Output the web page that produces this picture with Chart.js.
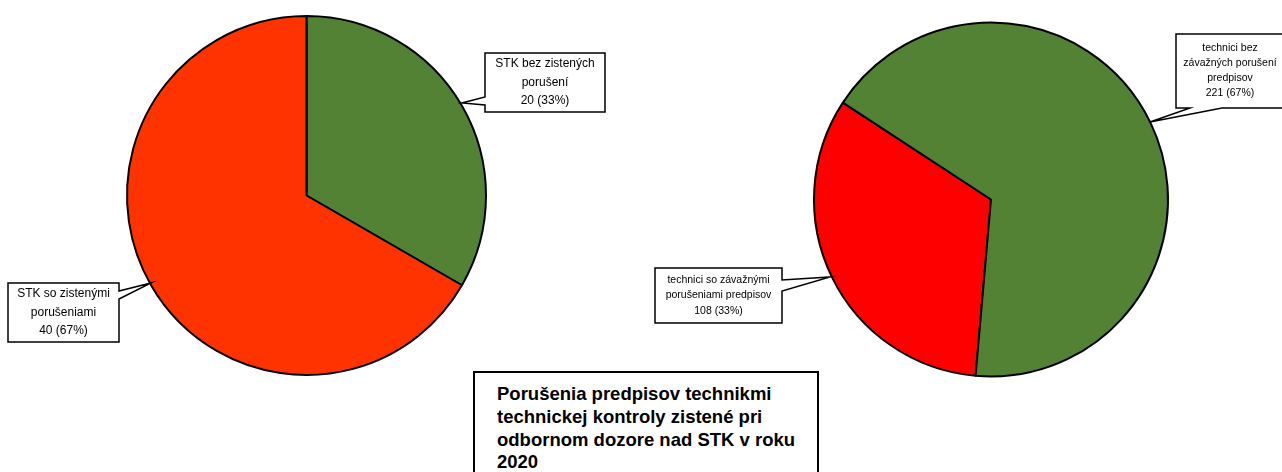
<!DOCTYPE html>
<html>
<head>
<meta charset="utf-8">
<script src="https://cdn.jsdelivr.net/npm/chart.js@4/dist/chart.umd.min.js"></script>
<style>
  html, body { margin: 0; padding: 0; background: #fff; }
  body { width: 1282px; height: 472px; position: relative; overflow: hidden; }
  .layer { position: absolute; left: 0; top: 0; width: 1282px; height: 472px; }
  #title {
    position: absolute; left: 473px; top: 371px; width: 320px; height: 120px;
    border: 2px solid #000; background: #fff; padding: 10px 0 0 22px;
    font: bold 18.5px "Liberation Sans", Arial, sans-serif; line-height: 22.8px; color: #000;
    white-space: nowrap;
  }
</style>
</head>
<body>
<div class="layer"><canvas id="leftPie"></canvas></div>
<div class="layer"><canvas id="rightPie"></canvas></div>
<div id="title">Porušenia predpisov technikmi<br>technickej kontroly zistené pri<br>odbornom dozore nad STK v roku<br>2020</div>
<script>
// left pie - STK
const stkLabels = [['STK bez zistených', 'porušení'], ['STK so zistenými', 'porušeniami']];
const stkValues = [20, 40];
const stkColors = ['#548235', '#FF3300'];

// right pie - technici
const techLabels = [['technici so závažnými', 'porušeniami predpisov'], ['technici bez', 'závažných porušení', 'predpisov']];
const techValues = [108, 221];
const techColors = ['#FF0000', '#548235'];

// callout boxes: [left, top, right, bottom], wedge edge, wedge span, tip
const stkCallouts = [
  { box: [485, 53, 605, 112], edge: 'left', span: [97, 105], tip: [462, 103], font: 12, lh: 18.5 },
  { box: [8, 283, 119, 342], edge: 'right', span: [291, 299], tip: [151, 283], font: 12, lh: 18.5 }
];
const techCallouts = [
  { box: [655, 268, 782, 323], edge: 'right', span: [280, 291], tip: [830, 277], font: 10.5, lh: 15.5 },
  { box: [1176, 34, 1300, 108], edge: 'bottom', span: [1190, 1222], tip: [1150, 122], font: 10.5, lh: 15 }
];

const pct = (v, arr) => Math.round(v / arr.reduce((a, b) => a + b, 0) * 100) + '%';

const calloutPlugin = {
  id: 'callouts',
  afterDraw(chart, args, opts) {
    const ctx = chart.ctx;
    const values = chart.data.datasets[0].data;
    opts.boxes.forEach((c, i) => {
      const [l, t, r, b] = c.box;
      ctx.save();
      ctx.beginPath();
      ctx.moveTo(l, t);
      ctx.lineTo(r, t);
      if (c.edge === 'right') {
        ctx.lineTo(r, c.span[0]);
        ctx.lineTo(c.tip[0], c.tip[1]);
        ctx.lineTo(r, c.span[1]);
      }
      ctx.lineTo(r, b);
      if (c.edge === 'bottom') {
        ctx.lineTo(c.span[1], b);
        ctx.lineTo(c.tip[0], c.tip[1]);
        ctx.lineTo(c.span[0], b);
      }
      ctx.lineTo(l, b);
      if (c.edge === 'left') {
        ctx.lineTo(l, c.span[1]);
        ctx.lineTo(c.tip[0], c.tip[1]);
        ctx.lineTo(l, c.span[0]);
      }
      ctx.closePath();
      ctx.fillStyle = '#fff';
      ctx.fill();
      ctx.lineWidth = 1.5;
      ctx.strokeStyle = '#000';
      ctx.stroke();

      const lines = opts.labels[i].concat([values[i] + ' (' + pct(values[i], values) + ')']);
      ctx.fillStyle = '#000';
      ctx.font = c.font + 'px "Liberation Sans", Arial, sans-serif';
      ctx.textAlign = 'center';
      ctx.textBaseline = 'middle';
      const cx = c.edge === 'bottom' ? l + 54 : (l + r) / 2;
      const cy = (t + b) / 2;
      lines.forEach((line, k) => {
        ctx.fillText(line, cx, cy + (k - (lines.length - 1) / 2) * c.lh);
      });
      ctx.restore();
    });
  }
};

const pieOptions = (padding, rotation, labels, boxes) => ({
  responsive: true,
  maintainAspectRatio: false,
  animation: false,
  rotation: rotation,
  layout: { padding: padding },
  plugins: {
    legend: { display: false },
    tooltip: { enabled: false },
    callouts: { labels: labels, boxes: boxes }
  }
});

new Chart(document.getElementById('leftPie'), {
  type: 'pie',
  data: {
    labels: stkLabels.map(l => l.join(' ')),
    datasets: [{
      data: stkValues,
      backgroundColor: stkColors,
      borderColor: '#000',
      borderWidth: 2
    }]
  },
  options: pieOptions({ left: 126, right: 795, top: 14, bottom: 95 }, 0, stkLabels, stkCallouts),
  plugins: [calloutPlugin]
});

new Chart(document.getElementById('rightPie'), {
  type: 'pie',
  data: {
    labels: techLabels.map(l => l.join(' ')),
    datasets: [{
      data: techValues,
      backgroundColor: techColors,
      borderColor: '#000',
      borderWidth: 2
    }]
  },
  options: pieOptions({ left: 813, right: 113, top: 21, bottom: 94 }, 185, techLabels, techCallouts),
  plugins: [calloutPlugin]
});
</script>
</body>
</html>
